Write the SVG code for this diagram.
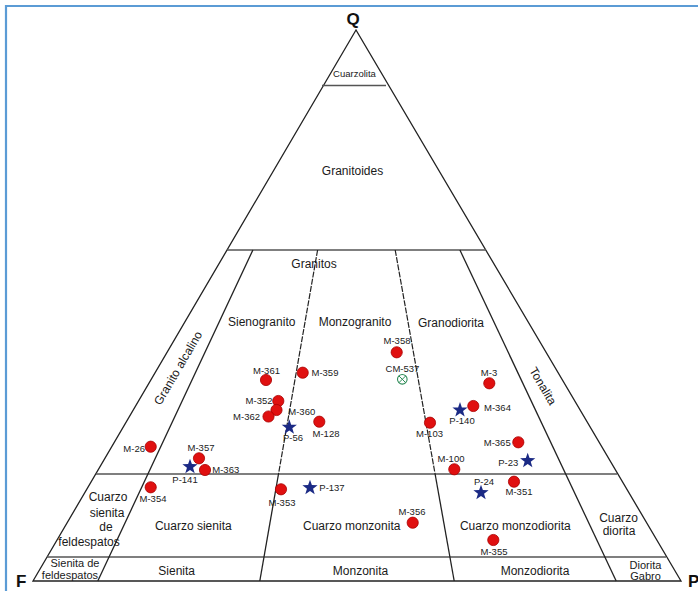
<svg xmlns="http://www.w3.org/2000/svg" xmlns:xlink="http://www.w3.org/1999/xlink" width="698" height="591" viewBox="0 0 698 591">
<style>
.frame{fill:none;stroke:#5b9bd5;stroke-width:2.2}
.edge{fill:none;stroke:#222;stroke-width:1.3}
.hl{fill:none;stroke:#555;stroke-width:1.7}
.dash{fill:none;stroke:#222;stroke-width:1.2;stroke-dasharray:6,1.3}
.lbl{font-family:"Liberation Sans",Arial,sans-serif;font-size:12px;fill:#1a1a1a;text-anchor:middle}
.sm{font-size:11px}
.pt{font-family:"Liberation Sans",Arial,sans-serif;font-size:9.5px;fill:#222}
.corner{font-family:"Liberation Sans",Arial,sans-serif;font-size:17px;font-weight:bold;fill:#111}
.dot{fill:#e01010;stroke:#a80000;stroke-width:0.8}
.star{fill:#1b2a85}
</style>
<defs>
<path id="star" class="star" d="M0,-8 L1.88,-2.59 L7.61,-2.47 L3.04,0.99 L4.70,6.47 L0,3.2 L-4.70,6.47 L-3.04,0.99 L-7.61,-2.47 L-1.88,-2.59 Z"/>
</defs>
<rect width="698" height="591" fill="#fff"/>
<path class="frame" d="M6,591 V6 H698"/>

<g id="connectors">
<path class="edge" d="M356,30 L33,581 L681,581 Z"/>
<line class="hl" x1="322" y1="85.5" x2="386" y2="85.5"/>
<line class="hl" x1="227" y1="250" x2="486" y2="250"/>
<line class="hl" x1="96" y1="474" x2="617" y2="474"/>
<line class="hl" x1="47" y1="557" x2="666" y2="557"/>
<line class="edge" x1="252.9" y1="250" x2="97.8" y2="581"/>
<line class="dash" x1="317.6" y1="250" x2="278.5" y2="474"/>
<line class="edge" x1="278.5" y1="474" x2="259.8" y2="581"/>
<line class="dash" x1="395.2" y1="250" x2="435.1" y2="474"/>
<line class="edge" x1="435.1" y1="474" x2="454.2" y2="581"/>
<line class="edge" x1="459.9" y1="250" x2="616.2" y2="581"/>
</g>

<g id="corners">
<text class="corner" x="353" y="25" text-anchor="middle">Q</text>
<text class="corner" x="16" y="587">F</text>
<text class="corner" x="688" y="587">P</text>
</g>

<g id="fields">
<text class="lbl" x="354.5" y="76.5" style="font-size:9.5px">Cuarzolita</text>
<text class="lbl" x="352.5" y="175">Granitoides</text>
<text class="lbl" x="314" y="268">Granitos</text>
<text class="lbl" x="261.7" y="326">Sienogranito</text>
<text class="lbl" x="355" y="326">Monzogranito</text>
<text class="lbl" x="451" y="327">Granodiorita</text>
<text class="lbl" transform="translate(178,368) rotate(-59.6)" dy="0.35em">Granito alcalino</text>
<text class="lbl" transform="translate(543,386) rotate(59.5)" dy="0.35em">Tonalita</text>
<text class="lbl" x="108" y="500.5">Cuarzo</text>
<text class="lbl" x="107" y="516.5">sienita</text>
<text class="lbl" x="106" y="531">de</text>
<text class="lbl" x="89" y="545.5">feldespatos</text>
<text class="lbl" x="193.3" y="530">Cuarzo sienita</text>
<text class="lbl" x="351.7" y="530">Cuarzo monzonita</text>
<text class="lbl" x="515.3" y="530">Cuarzo monzodiorita</text>
<text class="lbl" x="618.5" y="521.5">Cuarzo</text>
<text class="lbl" x="619" y="534.5">diorita</text>
<text class="lbl sm" x="75" y="567">Sienita de</text>
<text class="lbl sm" x="70" y="578.5">feldespatos</text>
<text class="lbl" x="176.7" y="574.5">Sienita</text>
<text class="lbl" x="360.5" y="574.5">Monzonita</text>
<text class="lbl" x="535" y="574.5">Monzodiorita</text>
<text class="lbl sm" x="645.5" y="568.5">Diorita</text>
<text class="lbl sm" x="645.5" y="580">Gabro</text>
</g>

<g id="samples">
<g id="M-361"><circle class="dot" cx="266" cy="380" r="5.6"/><text class="pt" x="266.5" y="374" text-anchor="middle">M-361</text></g>
<g id="M-359"><circle class="dot" cx="302.7" cy="372.7" r="5.6"/><text class="pt" x="311.5" y="376">M-359</text></g>
<g id="M-352"><circle class="dot" cx="278.3" cy="401" r="5.6"/><text class="pt" x="272.5" y="403.5" text-anchor="end">M-352</text></g>
<g id="M-360"><circle class="dot" cx="276.5" cy="410" r="5.6"/><text class="pt" x="288.3" y="415">M-360</text></g>
<g id="M-362"><circle class="dot" cx="268.5" cy="416.5" r="5.6"/><text class="pt" x="260" y="420" text-anchor="end">M-362</text></g>
<g id="P-56"><use xlink:href="#star" href="#star" x="289.3" y="427.3"/><text class="pt" x="293" y="441" text-anchor="middle">P-56</text></g>
<g id="M-128"><circle class="dot" cx="319.3" cy="421.7" r="5.6"/><text class="pt" x="326" y="437" text-anchor="middle">M-128</text></g>
<g id="M-26"><circle class="dot" cx="150.7" cy="446.7" r="5.6"/><text class="pt" x="145" y="452" text-anchor="end">M-26</text></g>
<g id="M-357"><circle class="dot" cx="199" cy="458.3" r="5.6"/><text class="pt" x="201" y="451" text-anchor="middle">M-357</text></g>
<g id="P-141"><use xlink:href="#star" href="#star" x="190" y="466.7"/><text class="pt" x="185" y="483" text-anchor="middle">P-141</text></g>
<g id="M-363"><circle class="dot" cx="205" cy="470" r="5.6"/><text class="pt" x="212.3" y="472.5">M-363</text></g>
<g id="M-354"><circle class="dot" cx="150.7" cy="487.3" r="5.6"/><text class="pt" x="153" y="502" text-anchor="middle">M-354</text></g>
<g id="M-353"><circle class="dot" cx="281" cy="489.3" r="5.6"/><text class="pt" x="282" y="506" text-anchor="middle">M-353</text></g>
<g id="P-137"><use xlink:href="#star" href="#star" x="310" y="487.7"/><text class="pt" x="319.3" y="491">P-137</text></g>
<g id="M-358"><circle class="dot" cx="396.7" cy="352.3" r="5.6"/><text class="pt" x="397" y="343.5" text-anchor="middle">M-358</text></g>
<g id="CM-537"><circle cx="402.3" cy="379.3" r="4.8" fill="#fff" stroke="#2e8b57" stroke-width="1.1"/><path d="M399,376 L405.6,382.6 M405.6,376 L399,382.6" stroke="#2e8b57" stroke-width="1"/><text class="pt" x="402.5" y="372" text-anchor="middle">CM-537</text></g>
<g id="M-3"><circle class="dot" cx="489.3" cy="383.3" r="5.6"/><text class="pt" x="489" y="376" text-anchor="middle">M-3</text></g>
<g id="M-364"><circle class="dot" cx="473.3" cy="406" r="5.6"/><text class="pt" x="484" y="411">M-364</text></g>
<g id="P-140"><use xlink:href="#star" href="#star" x="460" y="410"/><text class="pt" x="462" y="424" text-anchor="middle">P-140</text></g>
<g id="M-103"><circle class="dot" cx="430" cy="422.7" r="5.6"/><text class="pt" x="429.5" y="436.5" text-anchor="middle">M-103</text></g>
<g id="M-365"><circle class="dot" cx="518.3" cy="442.3" r="5.6"/><text class="pt" x="510.7" y="446" text-anchor="end">M-365</text></g>
<g id="P-23"><use xlink:href="#star" href="#star" x="527.7" y="460.7"/><text class="pt" x="518.3" y="466" text-anchor="end">P-23</text></g>
<g id="M-100"><circle class="dot" cx="454.3" cy="469.3" r="5.6"/><text class="pt" x="451" y="462" text-anchor="middle">M-100</text></g>
<g id="P-24"><use xlink:href="#star" href="#star" x="481" y="492.7"/><text class="pt" x="484" y="485" text-anchor="middle">P-24</text></g>
<g id="M-351"><circle class="dot" cx="514" cy="481.7" r="5.6"/><text class="pt" x="519" y="494.5" text-anchor="middle">M-351</text></g>
<g id="M-356"><circle class="dot" cx="412.7" cy="522.7" r="5.6"/><text class="pt" x="412" y="515" text-anchor="middle">M-356</text></g>
<g id="M-355"><circle class="dot" cx="493.3" cy="540" r="5.6"/><text class="pt" x="494" y="554.5" text-anchor="middle">M-355</text></g>
</g>
</svg>
